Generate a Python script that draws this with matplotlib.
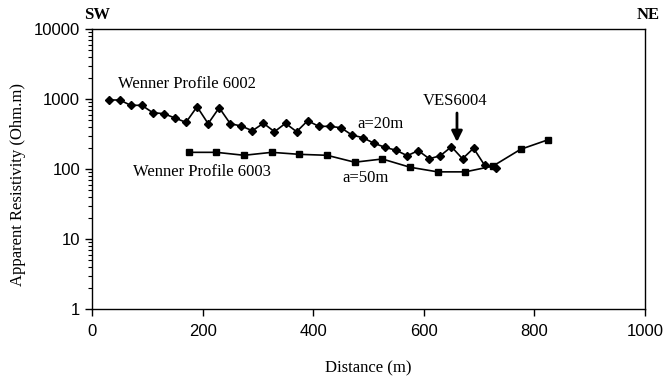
import matplotlib.pyplot as plt
from matplotlib.ticker import LogLocator, NullFormatter, FixedLocator

# Wenner profile 6002 (a=20m)
dist_6002 = [30, 50, 70, 90, 110, 130, 150, 170, 190, 210, 230, 250, 270, 290,
             310, 330, 350, 370, 390, 410, 430, 450, 470, 490, 510, 530, 550,
             570, 590, 610, 630, 650, 670, 690, 710, 730]
rho_6002 = [968, 968, 813, 813, 637, 617, 535, 464, 776, 444, 751, 444, 411, 352,
            450, 341, 450, 341, 490, 407, 407, 389, 306, 280, 233, 204, 185,
            155, 183, 140, 155, 208, 140, 198, 113, 102]

# Wenner profile 6003 (a=50m)
dist_6003 = [175, 225, 275, 325, 375, 425, 475, 525, 575, 625, 675, 725, 775, 825]
rho_6003 = [173, 173, 157, 173, 162, 157, 125, 139, 106, 91, 91, 110, 191, 262]

x_ticks = [0, 200, 400, 600, 800, 1000]
y_ticks = [1, 10, 100, 1000, 10000]

serif = ['Liberation Serif', 'DejaVu Serif']
sans = ['Liberation Sans', 'DejaVu Sans']

fig = plt.figure(figsize=(6.64, 3.76), dpi=100)
ax = fig.add_axes([92 / 664, 1 - 309 / 376, (645 - 92) / 664, (309 - 29) / 376])

ax.plot(dist_6002, rho_6002, color='black', lw=1.2, marker='D', ms=4.5)
ax.plot(dist_6003, rho_6003, color='black', lw=1.2, marker='s', ms=4.5)

ax.set_yscale('log')
ax.set_xlim(0, 1000)
ax.set_ylim(1, 10000)
ax.xaxis.set_major_locator(FixedLocator(x_ticks))
ax.yaxis.set_major_locator(FixedLocator(y_ticks))
ax.set_yticklabels([str(v) for v in y_ticks])
ax.yaxis.set_minor_locator(LogLocator(base=10, subs=range(2, 10)))
ax.yaxis.set_minor_formatter(NullFormatter())
ax.tick_params(axis='both', which='major', direction='out', length=5, width=1,
               labelsize=12)
ax.tick_params(axis='x', which='major', pad=6)
ax.tick_params(axis='y', which='minor', direction='out', length=3, width=0.8)
for lab in ax.get_xticklabels() + ax.get_yticklabels():
    lab.set_family(sans)
for sp in ax.spines.values():
    sp.set_linewidth(1)

ax.set_xlabel('Distance (m)', family=serif, fontsize=12, labelpad=15)
fig.text(18 / 664, 1 - 185 / 376, 'Apparent Resistivity (Ohm.m)', family=serif,
         fontsize=12, rotation=90, ha='center', va='center')

ax.text(47, 1637, 'Wenner Profile 6002', family=serif, fontsize=12, va='center')
ax.text(74, 91, 'Wenner Profile 6003', family=serif, fontsize=12, va='center')
ax.text(522, 439, 'a=20m', family=serif, fontsize=12, ha='center', va='center')
ax.text(494, 74, 'a=50m', family=serif, fontsize=12, ha='center', va='center')
ax.text(656, 936, 'VES6004', family=serif, fontsize=12, ha='center', va='center')
ax.annotate('', xy=(660, 243), xytext=(660, 631),
            arrowprops=dict(arrowstyle='-|>', color='black', lw=2,
                            mutation_scale=16, shrinkA=0, shrinkB=0))

fig.text(97 / 664, 1 - 15 / 376, 'SW', family=serif, fontsize=12,
         fontweight='bold', ha='center', va='center')
fig.text(648 / 664, 1 - 15 / 376, 'NE', family=serif, fontsize=12,
         fontweight='bold', ha='center', va='center')

fig.savefig('out.png', dpi=100)
